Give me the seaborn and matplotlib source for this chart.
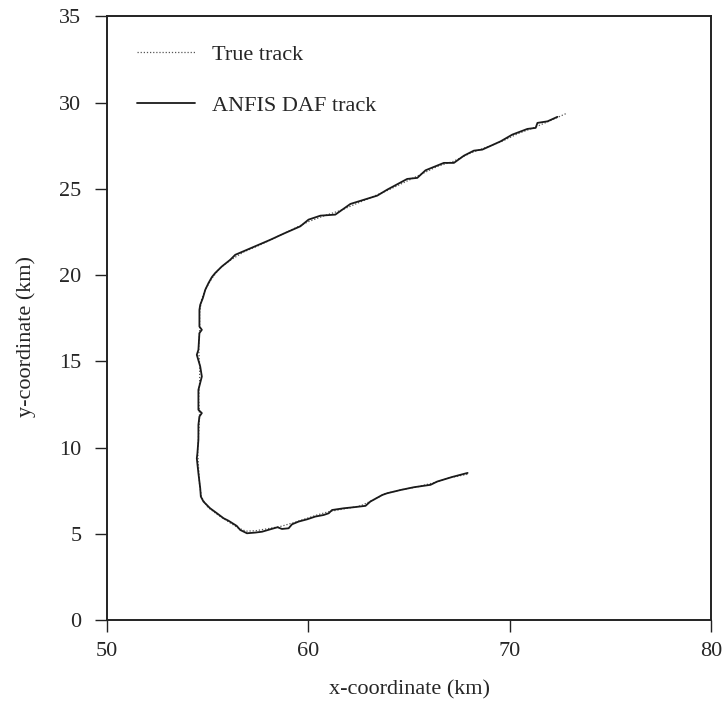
import matplotlib
matplotlib.use("Agg")
import matplotlib.pyplot as plt
import pandas as pd
import seaborn as sns

# ANFIS DAF estimated track (km), traced from the lower-right end round to the upper-right end
anfis_x = [67.91, 67.16, 66.40, 66.07, 65.24, 64.58, 63.91, 63.67, 63.08, 62.84,
           62.25, 61.76, 61.18, 61.01, 60.76, 60.35, 59.94, 59.52, 59.19, 59.02,
           58.69, 58.47, 58.11, 57.70, 57.36, 56.95, 56.62, 56.44, 56.03, 55.79,
           55.46, 55.12, 54.79, 54.66, 54.63, 54.54, 54.46, 54.49, 54.54, 54.54,
           54.59, 54.71, 54.54, 54.54, 54.54, 54.71, 54.63, 54.46, 54.54, 54.59,
           54.71, 54.59, 54.59, 54.63, 54.76, 54.88, 55.04, 55.21, 55.37, 55.71,
           56.12, 56.37, 56.95, 57.53, 58.11, 58.76, 59.60, 60.01, 60.60, 61.34,
           62.09, 63.42, 63.92, 64.91, 65.41, 65.82, 66.73, 67.23, 67.73, 68.22,
           68.64, 69.55, 70.13, 70.88, 71.29, 71.38, 71.88, 72.37]
anfis_y = [8.53, 8.30, 8.03, 7.84, 7.70, 7.54, 7.35, 7.25, 6.87, 6.62,
           6.54, 6.48, 6.38, 6.19, 6.09, 6.00, 5.84, 5.71, 5.55, 5.32,
           5.28, 5.38, 5.26, 5.12, 5.07, 5.03, 5.22, 5.46, 5.76, 5.90,
           6.19, 6.48, 6.87, 7.16, 7.64, 8.51, 9.38, 9.67, 10.45, 11.32,
           11.80, 12.00, 12.19, 12.96, 13.35, 14.12, 14.70, 15.38, 15.67, 16.64,
           16.83, 17.02, 17.99, 18.28, 18.67, 19.15, 19.54, 19.89, 20.12, 20.51,
           20.89, 21.18, 21.47, 21.76, 22.05, 22.40, 22.83, 23.22, 23.45, 23.51,
           24.13, 24.61, 24.96, 25.58, 25.64, 26.08, 26.51, 26.51, 26.93, 27.22,
           27.28, 27.76, 28.15, 28.48, 28.54, 28.83, 28.92, 29.18]

# true target track (km)
true_x = [67.9, 67.0, 66.2, 65.4, 64.6, 63.8, 63.2, 62.6, 61.8, 61.0,
          60.4, 59.8, 59.2, 58.6, 58.0, 57.4, 56.9, 56.5, 56.0, 55.5,
          55.0, 54.7, 54.6, 54.55, 54.5, 54.55, 54.6, 54.55, 54.6, 54.6,
          54.55, 54.6, 54.6, 54.7, 54.9, 55.2, 55.6, 56.1, 56.8, 57.6,
          58.4, 59.2, 60.0, 60.8, 61.6, 62.4, 63.2, 64.0, 64.8, 65.6,
          66.4, 67.2, 68.0, 68.8, 69.6, 70.4, 71.2, 72.0, 72.8]
true_y = [8.45, 8.25, 7.95, 7.72, 7.55, 7.32, 6.95, 6.62, 6.45, 6.28,
          6.08, 5.85, 5.62, 5.42, 5.30, 5.18, 5.15, 5.35, 5.72, 6.10,
          6.55, 7.10, 7.8, 8.8, 9.8, 10.8, 11.8, 12.8, 13.8, 14.8,
          15.8, 16.8, 17.8, 18.6, 19.2, 19.8, 20.4, 20.85, 21.35, 21.75,
          22.2, 22.65, 23.1, 23.45, 23.75, 24.15, 24.55, 24.95, 25.4, 25.85,
          26.3, 26.6, 27.05, 27.4, 27.75, 28.2, 28.55, 28.95, 29.37]

x_ticks = [50, 60, 70, 80]
y_ticks = [0, 5, 10, 15, 20, 25, 30, 35]

df_true = pd.DataFrame({"x": true_x, "y": true_y})
df_anfis = pd.DataFrame({"x": anfis_x, "y": anfis_y})

sns.set_style("ticks")
plt.rcParams["font.family"] = ["Liberation Serif", "DejaVu Serif"]

fig = plt.figure(figsize=(7.25, 7.02), dpi=100)
ax = fig.add_axes([0.1476, 0.1168, 0.8331, 0.8597])

sns.lineplot(data=df_true, x="x", y="y", sort=False, estimator=None, ax=ax,
             color="#555555", linestyle=(0, (1, 1.5)), linewidth=0.9, label="True track")
sns.lineplot(data=df_anfis, x="x", y="y", sort=False, estimator=None, ax=ax,
             color="#1a1a1a", linewidth=1.3, label="ANFIS DAF track")

ax.set_xlim(50, 80)
ax.set_ylim(0, 35)
ax.set_xticks(x_ticks)
ax.set_yticks(y_ticks)
ax.tick_params(direction="out", length=8.5, width=1, labelsize=16, color="#222222")
ax.tick_params(axis="x", pad=7)
ax.tick_params(axis="y", pad=10)
for s in ax.spines.values():
    s.set_linewidth(1.4)
    s.set_color("#222222")

ax.set_xlabel("x-coordinate (km)", fontsize=16, labelpad=14)
ax.set_ylabel("y-coordinate (km)", fontsize=16)
ax.yaxis.set_label_coords(-0.118, 0.47)

leg = ax.legend(loc="upper left", bbox_to_anchor=(0.0, 1.003), frameon=False, fontsize=16,
                handlelength=2.6, handletextpad=0.77, labelspacing=1.34, borderaxespad=0.95)

fig.savefig("out.png", dpi=100)
